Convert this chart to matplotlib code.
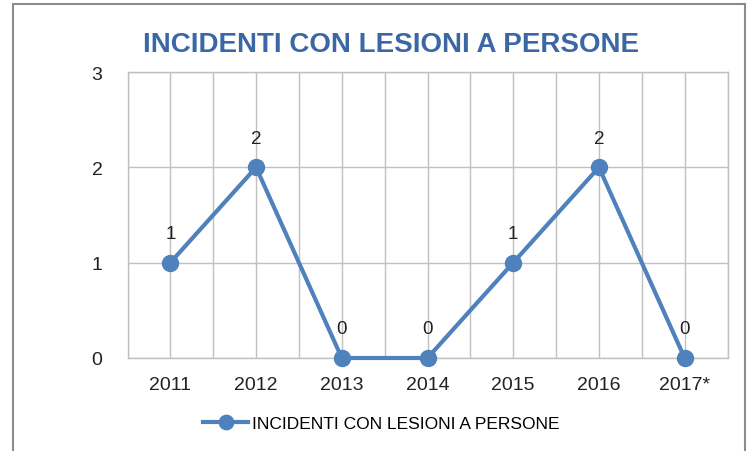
import matplotlib.pyplot as plt
from matplotlib.patches import Rectangle

anni = ['2011', '2012', '2013', '2014', '2015', '2016', '2017*']
incidenti = [1, 2, 0, 0, 1, 2, 0]
serie = 'INCIDENTI CON LESIONI A PERSONE'

plt.rcParams['font.family'] = ['Liberation Sans', 'DejaVu Sans']
blu = '#4F81BD'
griglia = '#C0C0C0'

fig = plt.figure(figsize=(7.51, 4.52), dpi=100)
# cornice del grafico
fig.patches.append(Rectangle((13 / 751, -0.05), (745 - 13) / 751, 1.05 - 4.5 / 452,
                             transform=fig.transFigure, fill=False,
                             edgecolor='#8C8C8C', linewidth=1.5))

ax = fig.add_axes([127.5 / 751, 93 / 452, 600 / 751, 286 / 452])
x = list(range(len(anni)))
ax.plot(x, incidenti, '-o', color=blu, linewidth=3, markersize=11.5, label=serie,
        clip_on=False, zorder=3)
for xi, v in zip(x, incidenti):
    ax.annotate(str(v), (xi, v), xytext=(0, 21), textcoords='offset points',
                ha='center', va='center', fontsize=13.5, color='#222222')

ax.set_xlim(-0.5, len(anni) - 0.5)
ax.set_ylim(0, 3)
ax.set_yticks([0, 1, 2, 3])
ax.set_xticks(x)
ax.set_xticklabels(anni)
ax.set_xticks([i - 0.5 for i in range(len(anni) + 1)], minor=True)
ax.grid(True, which='both', color=griglia, linewidth=1)
ax.set_axisbelow(True)
ax.tick_params(which='both', length=0, labelsize=14, colors='#222222')
ax.tick_params(axis='x', pad=13)
ax.tick_params(axis='y', pad=18)
for s in ax.spines.values():
    s.set_color(griglia)
    s.set_linewidth(1)

fig.text(391 / 751, 1 - 52 / 452, serie, ha='center', va='baseline',
         fontsize=20, fontweight='bold', color='#3B68A4')

fig.legend(loc='center', bbox_to_anchor=(381 / 751, 1 - 424 / 452), frameon=False,
           fontsize=12.5, handlelength=2.6, handletextpad=0.2, markerscale=0.9)

plt.savefig('out.png', dpi=100)
